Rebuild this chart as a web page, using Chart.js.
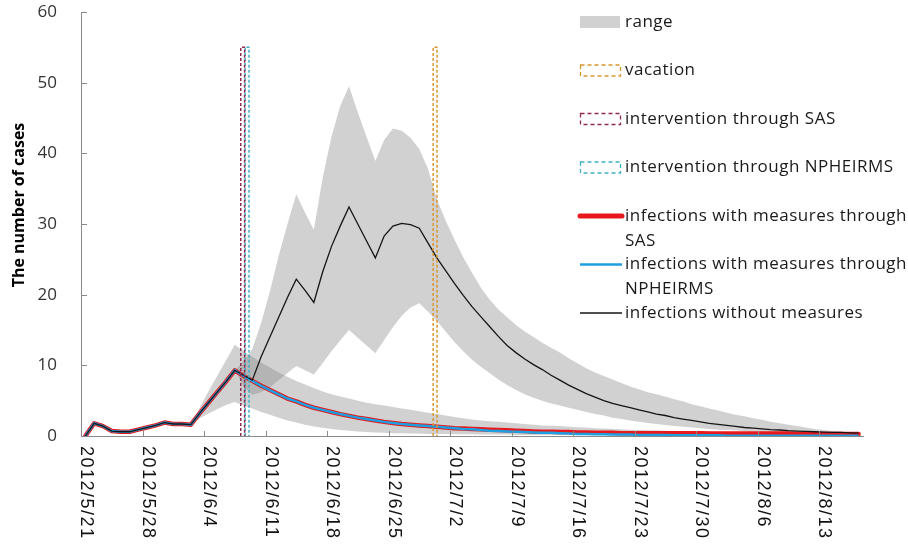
<!DOCTYPE html>
<html>
<head>
<meta charset="utf-8">
<script src="https://cdn.jsdelivr.net/npm/chart.js@4.4.1/dist/chart.umd.min.js"></script>
<style>
  html, body { margin: 0; padding: 0; background: #fff; }
  #wrap { width: 908px; height: 548px; position: relative; }
</style>
</head>
<body>
<div id="wrap"><canvas id="c" width="908" height="548"></canvas></div>
<script>
// ---- data: day 0 = 2012/5/21 ----
const tickLabels = ['2012/5/21', '2012/5/28', '2012/6/4', '2012/6/11', '2012/6/18', '2012/6/25',
  '2012/7/2', '2012/7/9', '2012/7/16', '2012/7/23', '2012/7/30', '2012/8/6', '2012/8/13'];
const tickDays = [0, 7, 14, 21, 28, 35, 42, 49, 56, 63, 70, 77, 84];
const lastDay = 88;

const casesNoMeasures = [
  0, 1.8, 1.4, 0.7, 0.6, 0.6, 0.9, 1.2, 1.5, 1.9,
  1.7, 1.7, 1.6, 3.2, 4.7, 6.2, 7.7, 9.3, 8.6, 7.9,
  11.2, 14.0, 16.8, 19.6, 22.2, 20.6, 18.9, 23.2, 26.8, 29.7,
  32.4, 30.0, 27.6, 25.2, 28.3, 29.7, 30.1, 29.9, 29.4, 27.3,
  25.2, 23.4, 21.6, 19.9, 18.3, 16.9, 15.5, 14.1, 12.8, 11.8,
  10.9, 10.1, 9.4, 8.6, 7.9, 7.2, 6.6, 6.0, 5.5, 5.0,
  4.6, 4.3, 4.0, 3.7, 3.4, 3.1, 2.9, 2.6, 2.4, 2.2,
  2.0, 1.8, 1.65, 1.5, 1.35, 1.2, 1.1, 1.0, 0.9, 0.85,
  0.75, 0.7, 0.65, 0.6, 0.55, 0.5, 0.5, 0.45, 0.4];

const casesSAS = [
  0, 1.8, 1.4, 0.7, 0.6, 0.6, 0.9, 1.2, 1.5, 1.9,
  1.7, 1.7, 1.6, 3.2, 4.7, 6.2, 7.7, 9.3, 8.5, 7.8,
  7.1, 6.5, 5.9, 5.3, 4.9, 4.4, 4.0, 3.7, 3.4, 3.1,
  2.85, 2.6, 2.4, 2.2, 2.0, 1.85, 1.7, 1.6, 1.5, 1.4,
  1.3, 1.2, 1.1, 1.05, 1.0, 0.95, 0.9, 0.85, 0.8, 0.75,
  0.7, 0.65, 0.6, 0.6, 0.55, 0.55, 0.5, 0.5, 0.45, 0.45,
  0.45, 0.4, 0.4, 0.4, 0.4, 0.4, 0.4, 0.4, 0.4, 0.4,
  0.4, 0.35, 0.35, 0.35, 0.35, 0.35, 0.35, 0.35, 0.35, 0.35,
  0.35, 0.3, 0.3, 0.3, 0.3, 0.3, 0.3, 0.3, 0.3];

const casesNPHEIRMS = [
  0, 1.8, 1.4, 0.7, 0.6, 0.6, 0.9, 1.2, 1.5, 1.9,
  1.7, 1.7, 1.6, 3.2, 4.7, 6.2, 7.7, 9.3, 8.5, 7.8,
  7.1, 6.5, 5.9, 5.3, 4.9, 4.4, 4.0, 3.7, 3.4, 3.1,
  2.85, 2.6, 2.4, 2.2, 2.0, 1.85, 1.7, 1.6, 1.5, 1.4,
  1.3, 1.2, 1.1, 1.0, 0.95, 0.85, 0.75, 0.7, 0.65, 0.6,
  0.55, 0.5, 0.45, 0.45, 0.4, 0.35, 0.3, 0.3, 0.25, 0.25,
  0.2, 0.2, 0.2, 0.15, 0.15, 0.15, 0.15, 0.1, 0.1, 0.1,
  0.1, 0.1, 0.1, 0.05, 0.05, 0.05, 0.05, 0.05, 0.05, 0.05,
  0.05, 0.05, 0.05, 0.05, 0.05, 0.05, 0.05, 0.05, 0.05];

// range of the scenario with measures (from day 12)
const rangeMeasuresStart = 12;
const rangeMeasuresHigh = [
  1.6, 4.0, 6.3, 8.5, 10.7, 12.9, 12.0, 11.2,
  10.4, 9.7, 9.0, 8.4, 7.8, 7.3, 6.8, 6.3, 5.9, 5.6,
  5.3, 5.0, 4.7, 4.5, 4.3, 4.1, 3.9, 3.7, 3.5, 3.3,
  3.1, 2.9, 2.7, 2.5, 2.35, 2.2, 2.1, 2.0, 1.9, 1.8,
  1.7, 1.6, 1.5, 1.45, 1.4, 1.3, 1.25, 1.2, 1.1, 1.05,
  1.0, 0.95, 0.9, 0.85, 0.8, 0.8, 0.75, 0.7, 0.7, 0.65,
  0.6, 0.6, 0.55, 0.55, 0.5, 0.5, 0.5, 0.45, 0.45, 0.4,
  0.4, 0.4, 0.4, 0.35, 0.35, 0.35, 0.3, 0.3, 0.3];
const rangeMeasuresLow = [
  1.6, 2.5, 3.2, 3.8, 4.4, 4.8, 4.3, 3.9,
  3.4, 3.0, 2.6, 2.2, 1.9, 1.6, 1.35, 1.15, 1.0, 0.85,
  0.75, 0.65, 0.55, 0.5, 0.45, 0.4, 0.4, 0.35, 0.35, 0.3,
  0.3, 0.3, 0.25, 0.25, 0.25, 0.2, 0.2, 0.2, 0.2, 0.15,
  0.15, 0.15, 0.15, 0.15, 0.15, 0.15, 0.15, 0.15, 0.15, 0.15,
  0.1, 0.1, 0.1, 0.1, 0.1, 0.1, 0.1, 0.1, 0.1, 0.1,
  0.1, 0.1, 0.1, 0.1, 0.1, 0.1, 0.1, 0.1, 0.1, 0.1,
  0.1, 0.1, 0.1, 0.1, 0.1, 0.1, 0.1, 0.1, 0.1];

// range of the scenario without measures (from day 17)
const rangeNoMeasuresStart = 17;
const rangeNoMeasuresHigh = [
  9.3, 10.5, 12.3,
  16.0, 20.5, 25.5, 30.0, 34.2, 31.6, 29.2, 36.5, 42.3, 46.7,
  49.5, 45.8, 42.3, 38.9, 41.9, 43.5, 43.2, 42.2, 40.6, 37.8,
  33.5, 30.5, 27.8, 25.3, 23.1, 21.0, 19.3, 17.9, 16.8, 15.7,
  14.8, 14.0, 13.2, 12.5, 11.8, 11.0, 10.3, 9.6, 9.0, 8.5,
  8.0, 7.5, 7.0, 6.6, 6.2, 5.9, 5.6, 5.2, 4.9, 4.5,
  4.2, 3.9, 3.6, 3.3, 3.0, 2.8, 2.5, 2.3, 2.0, 1.8,
  1.6, 1.4, 1.2, 1.0, 0.85, 0.7, 0.6, 0.5, 0.45];
const rangeNoMeasuresLow = [
  9.3, 7.0, 5.8,
  6.2, 6.9, 7.9, 8.9, 9.9, 9.3, 8.7, 10.3, 12.0, 13.5,
  15.0, 13.9, 12.8, 11.7, 13.6, 15.4, 17.0, 18.2, 18.8, 17.6,
  16.3, 14.8, 13.3, 12.0, 10.8, 9.8, 8.9, 8.0, 7.2, 6.5,
  5.9, 5.4, 5.0, 4.6, 4.3, 4.0, 3.7, 3.4, 3.1, 2.9,
  2.6, 2.4, 2.2, 2.0, 1.85, 1.7, 1.55, 1.4, 1.3, 1.2,
  1.1, 1.0, 0.9, 0.85, 0.8, 0.7, 0.65, 0.6, 0.55, 0.5,
  0.45, 0.4, 0.4, 0.35, 0.35, 0.3, 0.3, 0.3, 0.3];

// event markers (day offsets) and their height in cases
const vacationDay = 39.8;
const interventionSASDay = 17.9;
const interventionNPHEIRMSDay = 18.4;
const markerHeight = 55;

const yTicks = [0, 10, 20, 30, 40, 50, 60];
const yTitle = 'The number of cases';
const legendLabels = [
  ['range'],
  ['vacation'],
  ['intervention through SAS'],
  ['intervention through NPHEIRMS'],
  ['infections with measures through', 'SAS'],
  ['infections with measures through', 'NPHEIRMS'],
  ['infections without measures']
];

// ---- styles ----
const axisColor = '#8a8a8a';
const bandFill = 'rgba(128,128,128,0.36)';
const bandSwatch = '#d1d1d1';
const colVacation = '#d8962f';
const colSAS = '#8e2a4f';
const colNPHEIRMS = '#3fb0c8';
const colRed = '#e8191c';
const colBlue = '#1e9fe0';
const colBlack = '#151515';
const markerHalfWidth = 0.22;

const series = (values, start) => values.map((v, i) => ({ x: start + i, y: v }));
const markerBox = (day) => [
  { x: day - markerHalfWidth, y: 0 },
  { x: day - markerHalfWidth, y: markerHeight },
  { x: day + markerHalfWidth, y: markerHeight },
  { x: day + markerHalfWidth, y: 0 }
];

const bandLine = (data, fill, order) => ({
  data, fill, order,
  borderColor: 'rgba(0,0,0,0)', borderWidth: 0, backgroundColor: bandFill, pointRadius: 0
});

const datasets = [
  bandLine(series(rangeMeasuresLow, rangeMeasuresStart), false, 10),
  bandLine(series(rangeMeasuresHigh, rangeMeasuresStart), '-1', 10),
  bandLine(series(rangeNoMeasuresLow, rangeNoMeasuresStart), false, 10),
  bandLine(series(rangeNoMeasuresHigh, rangeNoMeasuresStart), '-1', 10),
  { data: series(casesSAS, 0), borderColor: colRed, borderWidth: 4.5, fill: false, order: 6,
    borderJoinStyle: 'round', borderCapStyle: 'round' },
  { data: series(casesNPHEIRMS, 0), borderColor: colBlue, borderWidth: 2.5, fill: false, order: 5 },
  { data: series(casesNoMeasures, 0), borderColor: colBlack, borderWidth: 1.3, fill: false, order: 4 },
  { data: markerBox(vacationDay), borderColor: colVacation, borderWidth: 1.5, borderDash: [3, 2], fill: false, order: 1 },
  { data: markerBox(interventionSASDay), borderColor: colSAS, borderWidth: 1.5, borderDash: [3, 2], fill: false, order: 1 },
  { data: markerBox(interventionNPHEIRMSDay), borderColor: colNPHEIRMS, borderWidth: 1.5, borderDash: [3, 2], fill: false, order: 1 }
];

const legendStyles = [
  { kind: 'fill', color: bandSwatch },
  { kind: 'dash', color: colVacation },
  { kind: 'dash', color: colSAS },
  { kind: 'dash', color: colNPHEIRMS },
  { kind: 'line', color: colRed, width: 5 },
  { kind: 'line', color: colBlue, width: 2.5 },
  { kind: 'line', color: colBlack, width: 1.3 }
];

// axis furniture, rotated date labels, y title and the legend
const overlay = {
  id: 'overlay',
  afterDraw(chart) {
    const { ctx, chartArea, scales: { x, y } } = chart;
    ctx.save();

    ctx.strokeStyle = axisColor;
    ctx.lineWidth = 1;
    ctx.beginPath();
    yTicks.forEach(v => {
      if (v === yTicks[0]) return;
      const py = Math.round(y.getPixelForValue(v)) + 0.5;
      ctx.moveTo(chartArea.left, py);
      ctx.lineTo(chartArea.left + 6, py);
    });
    tickDays.forEach(d => {
      if (d === tickDays[0]) return;
      const px = Math.round(x.getPixelForValue(d - 0.5)) + 0.5;
      ctx.moveTo(px, chartArea.bottom);
      ctx.lineTo(px, chartArea.bottom - 5);
    });
    ctx.stroke();

    ctx.fillStyle = '#111';
    ctx.font = '18px "Liberation Sans", Arial, sans-serif';
    ctx.letterSpacing = '1.5px';
    ctx.textAlign = 'left';
    ctx.textBaseline = 'middle';
    tickDays.forEach((d, i) => {
      ctx.save();
      ctx.translate(x.getPixelForValue(d) + 1, chartArea.bottom + 10);
      ctx.rotate(Math.PI / 2);
      ctx.fillText(tickLabels[i], 0, 0);
      ctx.restore();
    });
    ctx.letterSpacing = '0px';

    ctx.save();
    ctx.translate(19, 205);
    ctx.rotate(-Math.PI / 2);
    ctx.textAlign = 'center';
    ctx.font = 'bold 16px "Open Sans", sans-serif';
    ctx.fillStyle = '#000';
    ctx.fillText(yTitle, 0, 0);
    ctx.restore();

    // legend
    const lx = 580, tx = 625, top = 22, rowGap = 48.5, lineGap = 25;
    ctx.font = '17px "Open Sans", sans-serif';
    ctx.letterSpacing = '0.5px';
    ctx.textAlign = 'left';
    ctx.textBaseline = 'middle';
    legendLabels.forEach((lines, i) => {
      const cy = top + i * rowGap;
      const st = legendStyles[i];
      if (st.kind === 'fill') {
        ctx.fillStyle = st.color;
        ctx.fillRect(lx, cy - 6, 40, 12);
      } else if (st.kind === 'dash') {
        ctx.save();
        ctx.strokeStyle = st.color;
        ctx.lineWidth = 1.3;
        ctx.setLineDash([4, 3]);
        ctx.strokeRect(lx + 0.5, cy - 5.5, 40, 11);
        ctx.restore();
      } else {
        ctx.save();
        ctx.strokeStyle = st.color;
        ctx.lineWidth = st.width;
        ctx.lineCap = st.width > 3 ? 'round' : 'butt';
        ctx.beginPath();
        ctx.moveTo(lx, cy);
        ctx.lineTo(lx + 42, cy);
        ctx.stroke();
        ctx.restore();
      }
      ctx.fillStyle = '#1a1a1a';
      lines.forEach((t, j) => ctx.fillText(t, tx, cy + j * lineGap));
    });
    ctx.restore();
  }
};

new Chart(document.getElementById('c'), {
  type: 'line',
  data: { datasets },
  options: {
    responsive: false,
    animation: false,
    events: [],
    layout: { padding: { top: 12, right: 45, left: 0, bottom: 0 } },
    plugins: { legend: { display: false }, tooltip: { enabled: false } },
    elements: { point: { radius: 0 }, line: { tension: 0 } },
    scales: {
      x: {
        type: 'linear', min: -0.5, max: lastDay + 0.5,
        grid: { display: false, drawTicks: false },
        border: { display: true, color: axisColor, width: 1 },
        ticks: { display: false },
        afterFit(s) { s.height = 112; }
      },
      y: {
        min: yTicks[0], max: yTicks[yTicks.length - 1],
        grid: { display: false, drawTicks: false },
        border: { display: true, color: axisColor, width: 1 },
        ticks: { stepSize: yTicks[1] - yTicks[0], padding: 24, color: '#333',
                 font: { family: '"Open Sans", sans-serif', size: 17 } },
        afterFit(s) { s.width = 81; s.paddingTop = 10; s.paddingBottom = 10; }
      }
    }
  },
  plugins: [overlay]
});
</script>
</body>
</html>
